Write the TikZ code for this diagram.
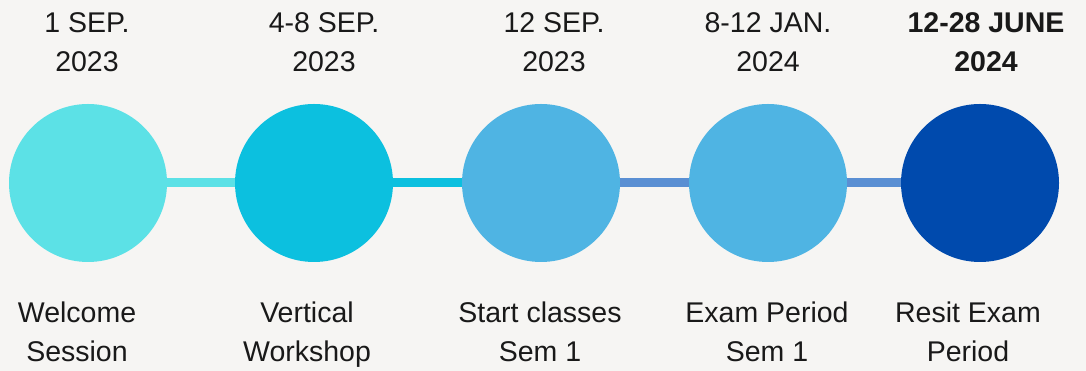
\documentclass[tikz,border=0pt]{standalone}
\usepackage{fontspec}
\setmainfont{Liberation Sans}
\usetikzlibrary{positioning}
\definecolor{bg_grey}{HTML}{F6F5F3}
\definecolor{turq_light}{HTML}{5CE1E6}
\definecolor{turq}{HTML}{0CC0DF}
\definecolor{sky}{HTML}{4FB4E3}
\definecolor{royal}{HTML}{004AAD}
\definecolor{link_blue}{HTML}{5A8FD3}

\begin{document}
\begin{tikzpicture}[x=1pt, y=1pt, node distance=227pt]
	\tikzset{
		dot/.style={circle, minimum size=158pt, inner sep=0pt}, % milestone circles
		date/.style={align=center, anchor=base, text=black!90, font=\fontsize{28.5}{39}\selectfont},
		what/.style={align=center, anchor=base, text=black!90, font=\fontsize{28.5}{39}\selectfont},
		link/.style={line width=9pt}, % connector between two circles
	}
	\fill[bg_grey] (0,0) rectangle (1086,371);
	\useasboundingbox (0,0) rectangle (1086,371);
    \node[dot, fill=turq_light] (0) at (88,188) {};
    \node[dot, right of=0, xshift=-1pt, fill=turq] (1) {};
    \node[dot, right of=1, fill=sky] (2) {};
    \node[dot, right of=2, fill=sky] (3) {};
    \node[dot, right of=3, xshift=-15pt, fill=royal] (4) {};
    \draw[link, draw=turq_light] (0) -- (1);
    \draw[link, draw=turq] (1) -- (2);
    \draw[link, draw=link_blue] (2) -- (3);
    \draw[link, draw=link_blue] (3) -- (4);
    % dates above
    \node[date] (d0) at (87,299) {1 SEP.\\2023};
    \node[date] (d1) at (324,299) {4-8 SEP.\\2023};
    \node[date] (d2) at (554,299) {12 SEP.\\2023};
    \node[date] (d3) at (768,299) {8-12 JAN.\\2024};
    \node[date, font=\fontsize{28.5}{39}\selectfont\bfseries] (d4) at (986,299) {12-28 JUNE\\2024};
    % events below
    \node[what] (e0) at (77,9) {Welcome\\Session};
    \node[what] (e1) at (307,9) {Vertical\\Workshop};
    \node[what] (e2) at (540,9) {Start classes\\Sem 1};
    \node[what] (e3) at (767,9) {Exam Period\\Sem 1};
    \node[what] (e4) at (968,9) {Resit Exam\\Period};
\end{tikzpicture}
\end{document}
